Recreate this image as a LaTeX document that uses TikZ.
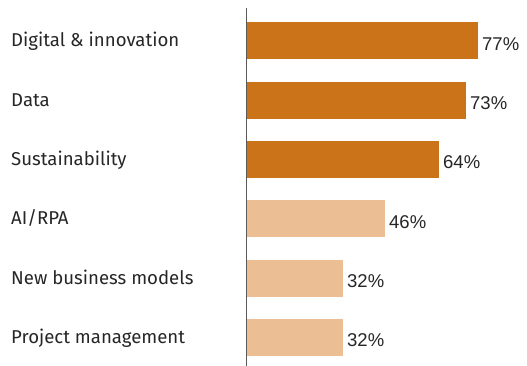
\documentclass[tikz,border=0pt]{standalone}
\usepackage{fontspec}
\setmainfont{Fira Sans}
\newfontfamily\pctfont{Liberation Sans}
\definecolor{barhi}{HTML}{CB7318}
\definecolor{barlo}{HTML}{EBBE93}
\definecolor{txt}{HTML}{262626}
\definecolor{axisgray}{HTML}{5A5A5A}
\begin{document}
\begin{tikzpicture}[x=1pt,y=-1pt,
  catlabel/.style={anchor=base west,inner sep=0pt,text=txt,font=\fontsize{18.6}{22}\selectfont},
  pctlabel/.style={anchor=base west,inner xsep=4pt,inner ysep=0pt,text=txt,font=\pctfont\fontsize{18.5}{22}\selectfont},
  axisline/.style={draw=axisgray,line width=1.4pt}]
\useasboundingbox (0,0) rectangle (527,366);
\foreach \i/\lab/\val/\col in {0/{Digital \& innovation}/77/barhi,1/{Data}/73/barhi,2/{Sustainability}/64/barhi,3/{AI/RPA}/46/barlo,4/{New business models}/32/barlo,5/{Project management}/32/barlo}{
  \pgfmathsetmacro{\yc}{40.8+59.3*\i}
  \pgfmathsetmacro{\xe}{247+3*\val}
  \fill[\col] (247,\yc-18.5) rectangle (\xe,\yc+18.5);
  \node[catlabel] (cat\i) at (11,\yc+6) {\lab};
  \node[pctlabel] (pct\i) at (\xe,\yc+9.5) {\val\%};
}
\draw[axisline] (246.3,8) -- (246.3,366);
\end{tikzpicture}
\end{document}
